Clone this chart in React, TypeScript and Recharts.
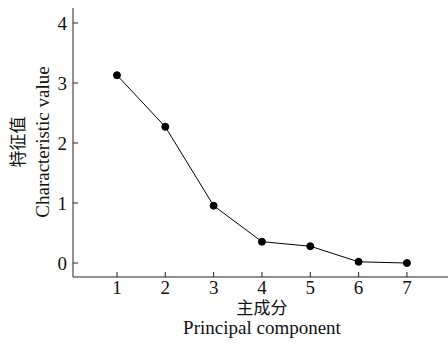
import React from 'react';
import { LineChart, Line, XAxis, YAxis } from 'recharts';

const components = [1, 2, 3, 4, 5, 6, 7];
const eigenvalues = [3.13, 2.27, 0.955, 0.355, 0.28, 0.02, 0.0];
const yTicks = [0, 1, 2, 3, 4];

const data = components.map((c, i) => ({ pc: c, value: eigenvalues[i] }));

const SERIF = '"Liberation Serif", "Times New Roman", serif';
const CJK = '"Liberation Serif", "Noto Sans CJK SC", serif';
const AXIS = '#222';

const serifStyle = { fontFamily: SERIF, fontSize: 19 };
const cjkStyle = { fontFamily: CJK, fontSize: 17 };

const YTick = (props: any) => {
  const { x, y, payload } = props;
  return (
    <g>
      <line x1={x} x2={x + 5} y1={y} y2={y} stroke={AXIS} strokeWidth={1} />
      <text x={x - 6} y={y + 6.5} textAnchor="end" style={serifStyle} fill="#111">
        {payload.value}
      </text>
    </g>
  );
};

const XTick = (props: any) => {
  const { x, y, payload } = props;
  return (
    <g>
      <line x1={x} x2={x} y1={y} y2={y - 5} stroke={AXIS} strokeWidth={1} />
      <text x={x} y={294} textAnchor="middle" style={serifStyle} fill="#111">
        {payload.value}
      </text>
    </g>
  );
};

const XLabel = () => {
  const cx = 262;
  return (
    <g>
      <text x={cx} y={313.5} textAnchor="middle" style={cjkStyle} fill="#111">主成分</text>
      <text x={cx} y={334} textAnchor="middle" style={serifStyle} fill="#111">Principal component</text>
    </g>
  );
};

const YLabel = () => {
  const cy = 142;
  return (
    <g>
      <text x={24} y={cy} transform={`rotate(-90 24 ${cy})`} textAnchor="middle" style={cjkStyle} fill="#111">特征值</text>
      <text x={49} y={cy} transform={`rotate(-90 49 ${cy})`} textAnchor="middle" style={serifStyle} fill="#111">Characteristic value</text>
    </g>
  );
};

export default function App() {
  return (
    <div style={{ position: 'absolute', left: 0, top: 0, background: '#fff' }}>
      <LineChart width={448} height={344} data={data} margin={{ top: 8, right: 0, left: 0, bottom: 0 }}>
        <XAxis
          dataKey="pc"
          type="number"
          domain={[0.09, 7.85]}
          ticks={components}
          allowDataOverflow
          height={67}
          tickSize={0}
          tickMargin={0}
          tickLine={false}
          tick={<XTick />}
          stroke={AXIS}
          label={<XLabel />}
        />
        <YAxis
          type="number"
          domain={[-0.233, 4.25]}
          ticks={yTicks}
          allowDataOverflow
          width={73}
          tickSize={0}
          tickMargin={0}
          tickLine={false}
          tick={<YTick />}
          stroke={AXIS}
          label={<YLabel />}
        />
        <Line
          dataKey="value"
          stroke="#000"
          strokeWidth={1}
          dot={{ r: 3.5, fill: '#000', stroke: '#000', strokeWidth: 1 }}
          isAnimationActive={false}
        />
      </LineChart>
    </div>
  );
}
